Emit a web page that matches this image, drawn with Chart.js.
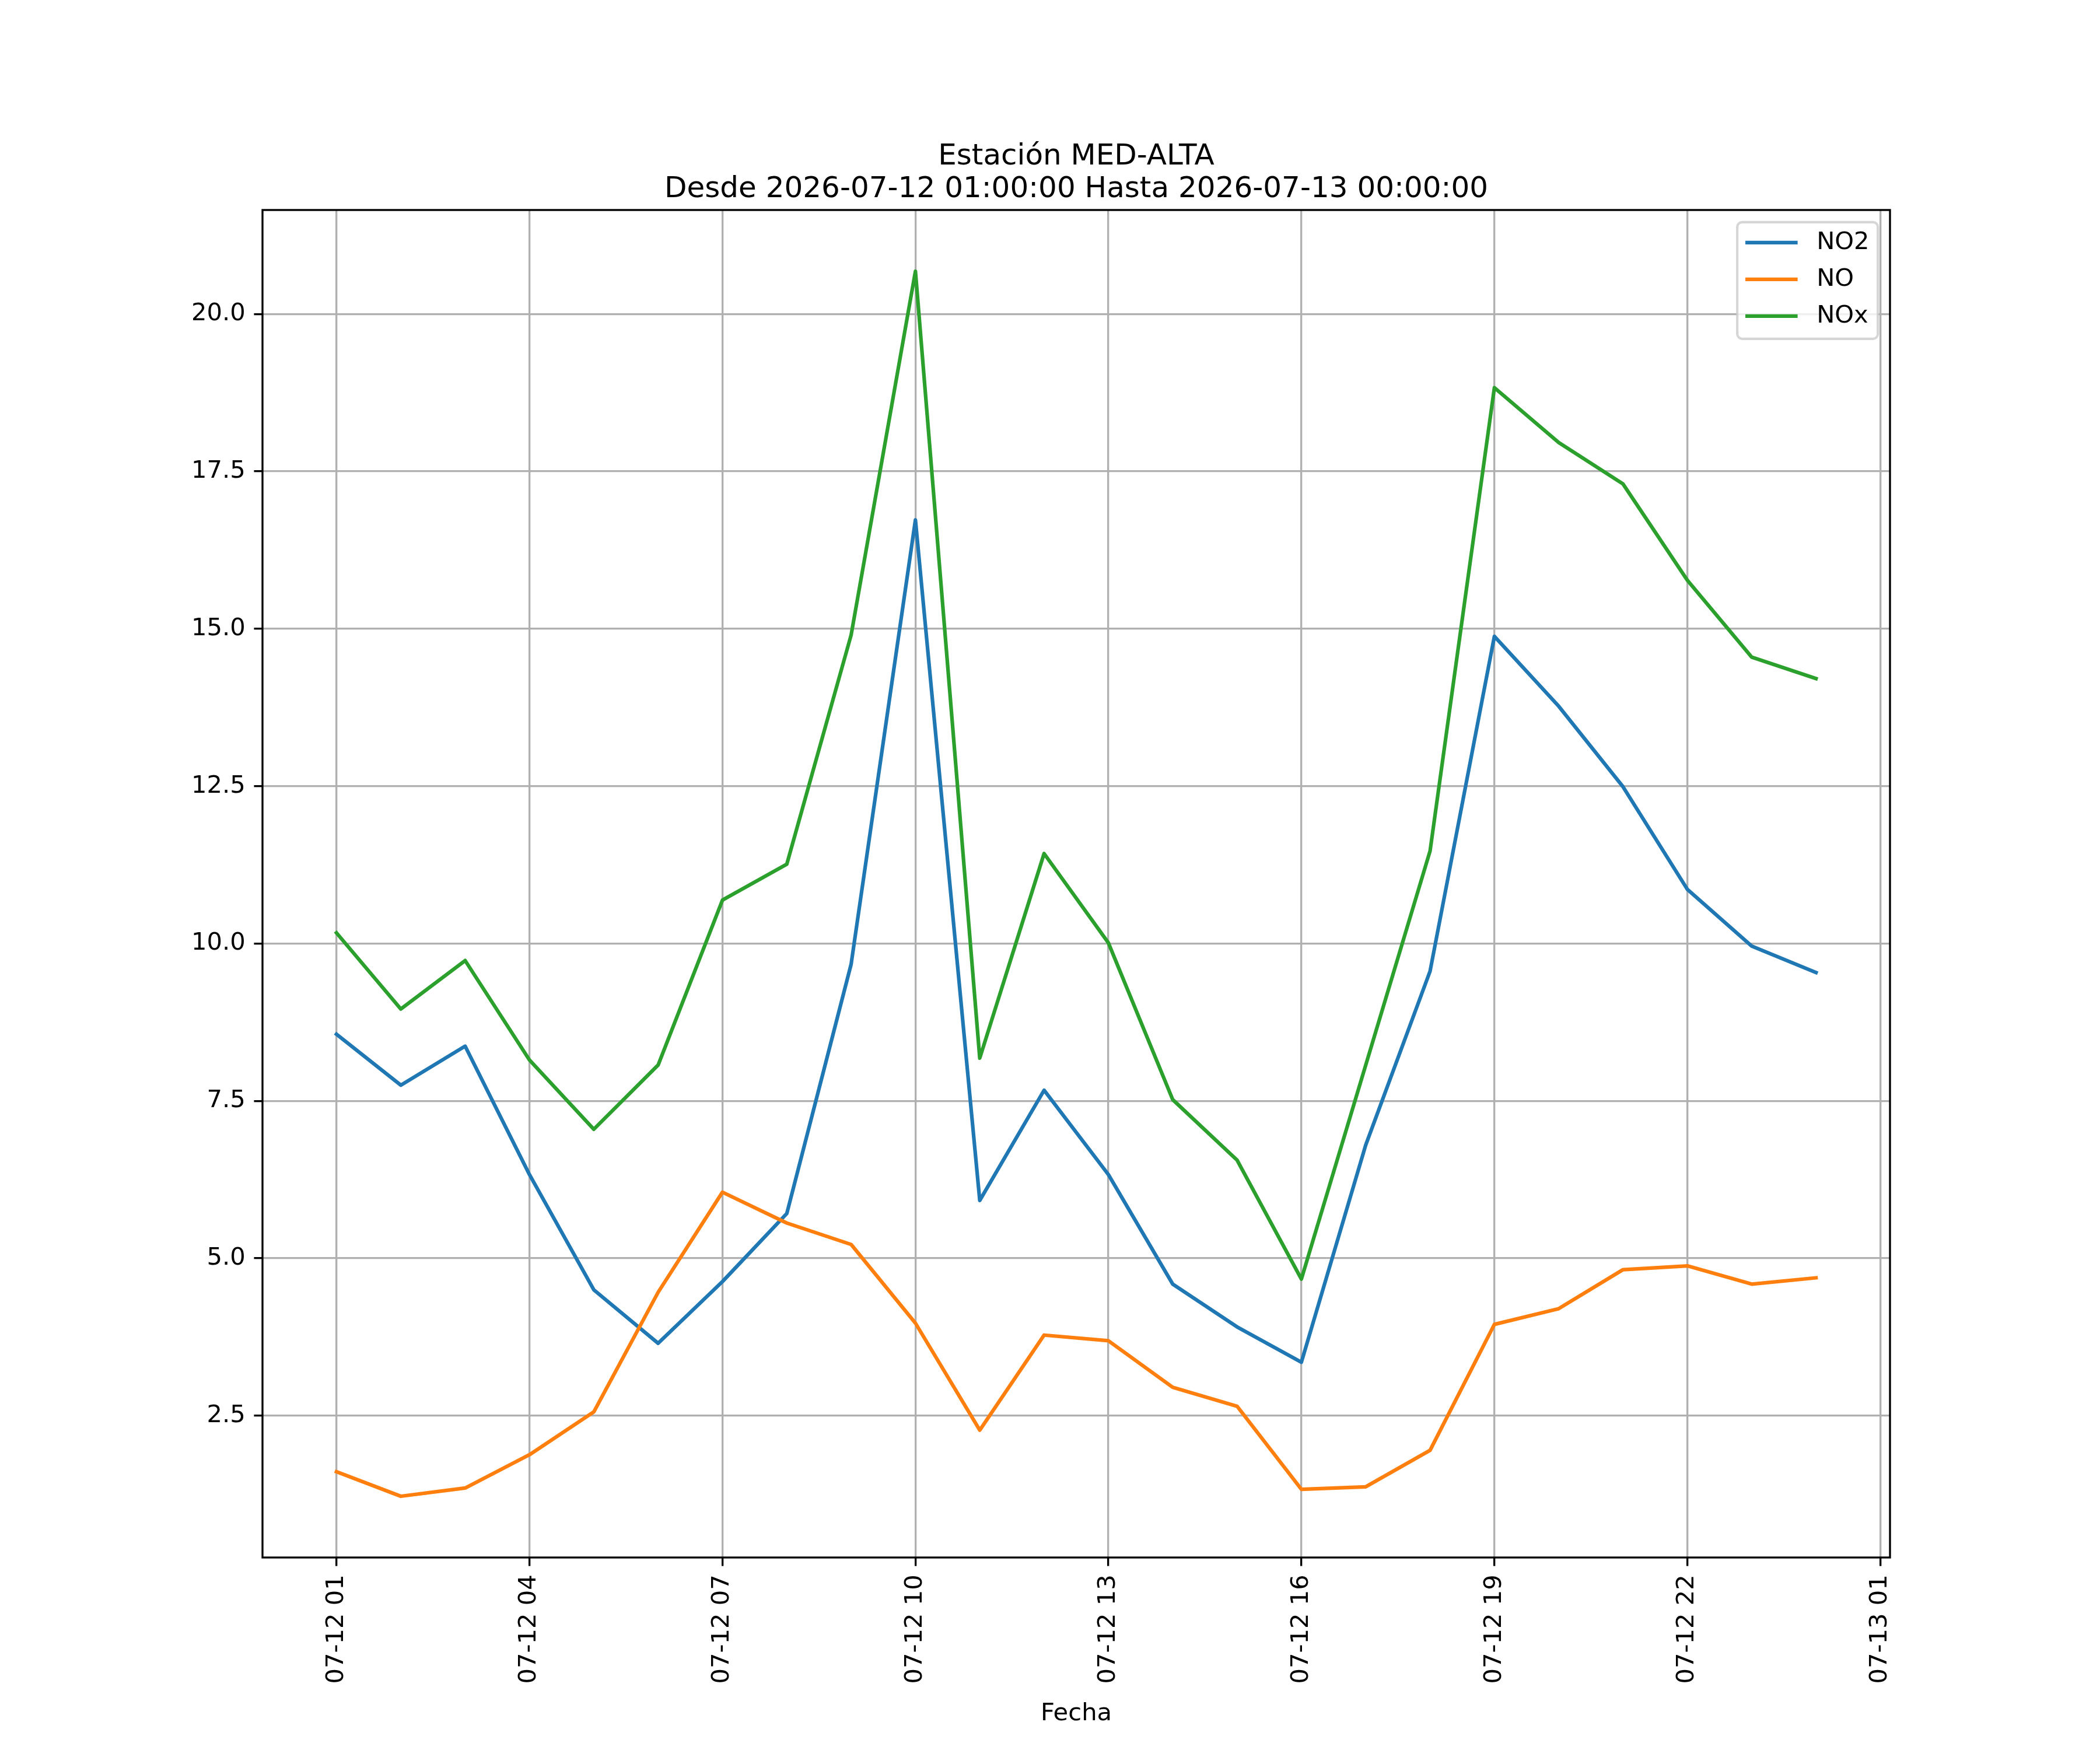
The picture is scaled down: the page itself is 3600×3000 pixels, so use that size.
<!DOCTYPE html>
<html>
<head>
<meta charset="utf-8">
<script src="https://cdn.jsdelivr.net/npm/chart.js@4.4.1/dist/chart.umd.min.js"></script>
<style>
  html, body { margin: 0; padding: 0; background: #ffffff; }
  #wrap { width: 3600px; height: 3000px; }
</style>
</head>
<body>
<div id="wrap"><canvas id="c" width="3600" height="3000"></canvas></div>
<script>
// ---- data ----
const titleLines = ['Estación MED-ALTA', 'Desde 2026-07-12 01:00:00 Hasta 2026-07-13 00:00:00'];
const xAxisLabel = 'Fecha';
// hours since 2026-07-12 00:00
const hours = [1, 2, 3, 4, 5, 6, 7, 8, 9, 10, 11, 12, 13, 14, 15, 16, 17, 18, 19, 20, 21, 22, 23, 24];
const no2 = [8.56, 7.75, 8.37, 6.33, 4.50, 3.65, 4.63, 5.71, 9.67, 16.73, 5.92, 7.67,
             6.33, 4.59, 3.91, 3.35, 6.80, 9.56, 14.88, 13.77, 12.49, 10.86, 9.96, 9.54];
const no  = [1.61, 1.22, 1.35, 1.88, 2.56, 4.46, 6.05, 5.56, 5.22, 3.97, 2.27, 3.78,
             3.69, 2.95, 2.65, 1.33, 1.37, 1.95, 3.95, 4.20, 4.82, 4.88, 4.59, 4.69];
const nox = [10.17, 8.96, 9.73, 8.15, 7.05, 8.07, 10.69, 11.26, 14.90, 20.68, 8.18, 11.43,
             10.01, 7.52, 6.56, 4.67, 8.07, 11.47, 18.83, 17.96, 17.30, 15.77, 14.55, 14.21];
const seriesNames = ['NO2', 'NO', 'NOx'];
const seriesColors = ['#1f77b4', '#ff7f0e', '#2ca02c'];
const xTickHours = [1, 4, 7, 10, 13, 16, 19, 22, 25];
const xTickLabels = ['07-12 01', '07-12 04', '07-12 07', '07-12 10', '07-12 13', '07-12 16', '07-12 19', '07-12 22', '07-13 01'];
const yTickValues = [2.5, 5.0, 7.5, 10.0, 12.5, 15.0, 17.5, 20.0];

// ---- build ----
const PT = 300 / 72;
const FS = 10 * PT;
const allSeries = [no2, no, nox];
const allVals = allSeries.flat();
const yLo = Math.min(...allVals), yHi = Math.max(...allVals);
const yPad = 0.05 * (yHi - yLo);
const xLo = Math.min(...hours), xHi = Math.max(...hours);
const xPad = 0.05 * (xHi - xLo);

Chart.defaults.font.family = "'DejaVu Sans', sans-serif";
Chart.defaults.color = '#000000';

const datasets = allSeries.map((vals, i) => ({
  label: seriesNames[i],
  data: vals.map((v, k) => ({ x: hours[k], y: v })),
  borderColor: seriesColors[i],
  backgroundColor: seriesColors[i],
  borderWidth: 1.5 * PT,
  pointRadius: 0,
  tension: 0,
  fill: false,
  borderJoinStyle: 'round',
  borderCapStyle: 'square',
  order: 3 - i
}));

const framePlugin = {
  id: 'framePlugin',
  afterDatasetsDraw(chart) {
    const { ctx, chartArea: ca } = chart;
    ctx.save();
    // spines
    ctx.strokeStyle = '#000000';
    ctx.lineWidth = 0.8 * PT;
    ctx.lineJoin = 'miter';
    ctx.strokeRect(ca.left, ca.top, ca.right - ca.left, ca.bottom - ca.top);
    // legend
    const pad = 0.5 * FS;
    const w = 241, h = 200;
    const right = ca.right - pad, top = ca.top + pad, left = right - w;
    const r = 0.2 * FS;
    ctx.beginPath();
    ctx.moveTo(left + r, top);
    ctx.lineTo(right - r, top);
    ctx.arcTo(right, top, right, top + r, r);
    ctx.lineTo(right, top + h - r);
    ctx.arcTo(right, top + h, right - r, top + h, r);
    ctx.lineTo(left + r, top + h);
    ctx.arcTo(left, top + h, left, top + h - r, r);
    ctx.lineTo(left, top + r);
    ctx.arcTo(left, top, left + r, top, r);
    ctx.closePath();
    ctx.fillStyle = 'rgba(255,255,255,0.8)';
    ctx.fill();
    ctx.strokeStyle = 'rgba(204,204,204,0.8)';
    ctx.lineWidth = 1.0 * PT;
    ctx.stroke();
    const rowY = [35, 98, 161];
    chart.data.datasets.forEach((ds, i) => {
      const y = top + rowY[i];
      ctx.beginPath();
      ctx.strokeStyle = ds.borderColor;
      ctx.lineWidth = 1.5 * PT;
      ctx.lineCap = 'square';
      ctx.moveTo(left + 17, y);
      ctx.lineTo(left + 17 + 2 * FS, y);
      ctx.stroke();
      ctx.fillStyle = '#000000';
      ctx.font = FS + "px 'DejaVu Sans'";
      ctx.textAlign = 'left';
      ctx.textBaseline = 'middle';
      ctx.fillText(ds.label, left + 136, y);
    });
    ctx.restore();
  }
};

new Chart(document.getElementById('c'), {
  type: 'line',
  data: { datasets },
  options: {
    responsive: false,
    animation: false,
    devicePixelRatio: 1,
    layout: { padding: { left: 0, right: 360, top: 0, bottom: 0 } },
    plugins: {
      legend: { display: false },
      tooltip: { enabled: false },
      title: {
        display: true,
        fullSize: false,
        text: titleLines,
        color: '#000000',
        font: { family: "'DejaVu Sans'", size: 12 * PT, weight: 'normal', lineHeight: 1.12 },
        padding: { top: 241, bottom: 7 }
      }
    },
    scales: {
      x: {
        type: 'linear',
        min: xLo - xPad,
        max: xHi + xPad,
        afterFit(scale) { scale.height = 330; },
        afterBuildTicks(scale) { scale.ticks = xTickHours.map(v => ({ value: v })); },
        grid: {
          color: '#b0b0b0', lineWidth: 0.8 * PT,
          tickColor: '#000000', tickWidth: 0.8 * PT, tickLength: 3.5 * PT
        },
        border: { display: false },
        ticks: {
          autoSkip: false,
          minRotation: 90, maxRotation: 90,
          padding: 3.5 * PT,
          color: '#000000',
          font: { size: FS },
          callback(v) { const k = xTickHours.indexOf(v); return k >= 0 ? xTickLabels[k] : ''; }
        },
        title: {
          display: true,
          text: xAxisLabel,
          color: '#000000',
          font: { size: FS },
          padding: { top: 0, bottom: 37 }
        }
      },
      y: {
        type: 'linear',
        min: yLo - yPad,
        max: yHi + yPad,
        afterFit(scale) { scale.width = 450; },
        afterBuildTicks(scale) { scale.ticks = yTickValues.map(v => ({ value: v })); },
        grid: {
          color: '#b0b0b0', lineWidth: 0.8 * PT,
          tickColor: '#000000', tickWidth: 0.8 * PT, tickLength: 3.5 * PT
        },
        border: { display: false },
        ticks: {
          padding: 3.5 * PT,
          color: '#000000',
          font: { size: FS },
          callback(v) { return Number(v).toFixed(1); }
        }
      }
    }
  },
  plugins: [framePlugin]
});
</script>
</body>
</html>
